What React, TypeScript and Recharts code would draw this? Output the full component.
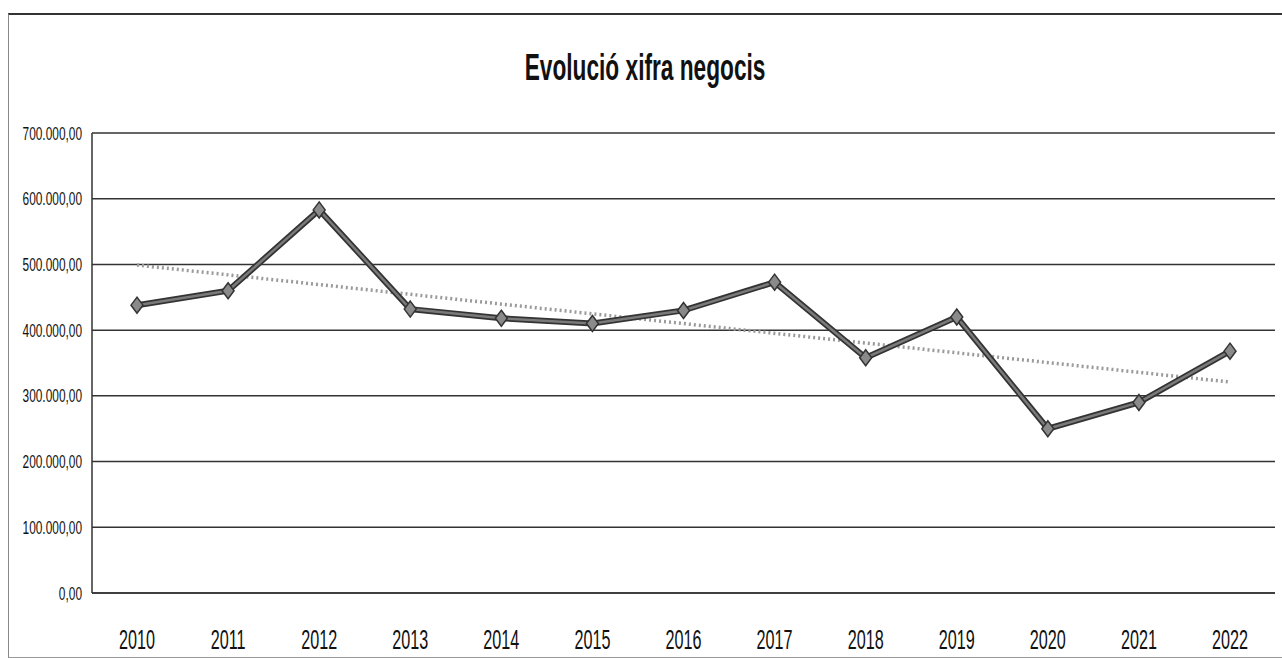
import React from 'react';
import { LineChart, Line, XAxis, YAxis, CartesianGrid } from 'recharts';

const years = ['2010', '2011', '2012', '2013', '2014', '2015', '2016', '2017', '2018', '2019', '2020', '2021', '2022'];
const revenue = [438000, 460000, 583000, 432000, 418000, 410000, 430000, 473000, 358000, 420000, 250000, 290000, 368000];
const trendEnds = [499000, null, null, null, null, null, null, null, null, null, null, null, 321000];
const yTicks = [0, 100000, 200000, 300000, 400000, 500000, 600000, 700000];

const data = years.map((y, i) => ({ year: y, value: revenue[i], trend: trendEnds[i] }));

const FONT = "'Liberation Sans', Arial, sans-serif";

const fmt = (v: number) => {
  const s = Math.round(v).toString().replace(/\B(?=(\d{3})+(?!\d))/g, '.');
  return s + ',00';
};

const YTick = (props: any) => {
  const { y, payload } = props;
  return (
    <text
      transform={`translate(82,${y + 6.5}) scale(0.66,1)`}
      textAnchor="end"
      fontFamily={FONT}
      fontSize={18}
      fill="#111"
    >
      {fmt(payload.value)}
    </text>
  );
};

const XTick = (props: any) => {
  const { x, y, payload } = props;
  return (
    <text
      transform={`translate(${x},${y + 48}) scale(0.6,1)`}
      textAnchor="middle"
      fontFamily={FONT}
      fontSize={27}
      fill="#111"
    >
      {payload.value}
    </text>
  );
};

const Diamond = (props: any) => {
  const { cx, cy } = props;
  if (cx == null || cy == null) return null;
  const w = 6, h = 8;
  return (
    <polygon
      points={`${cx},${cy - h} ${cx + w},${cy} ${cx},${cy + h} ${cx - w},${cy}`}
      fill="#8a8a8a"
      stroke="#333"
      strokeWidth={1.5}
    />
  );
};

export default function App() {
  return (
    <div style={{ position: 'absolute', left: 0, top: 0, width: 1282, height: 658, background: '#fff', overflow: 'hidden' }}>
      <div style={{ position: 'absolute', left: 8, top: 13, width: 1300, height: 642, borderTop: '2px solid #333', borderLeft: '1px solid #888', borderBottom: '1px solid #999' }} />
      <div style={{ position: 'absolute', left: 0, width: 1290, top: 47, textAlign: 'center' }}>
        <span style={{ display: 'inline-block', transform: 'scaleX(0.63)', fontFamily: FONT, fontWeight: 'bold', fontSize: 36, color: '#111' }}>
          Evolució xifra negocis
        </span>
      </div>
      <div style={{ position: 'absolute', left: 0, top: 0 }}>
        <LineChart width={1282} height={658} data={data} margin={{ top: 133, right: 7, left: 0, bottom: 10 }}>
          <CartesianGrid horizontal={true} vertical={false} stroke="#333" strokeWidth={1.5} />
          <XAxis
            dataKey="year"
            height={55}
            tick={<XTick />}
            tickLine={false}
            axisLine={{ stroke: '#333', strokeWidth: 1.5 }}
            interval={0}
            padding={{ left: 45, right: 45 }}
          />
          <YAxis
            width={92}
            domain={[0, 700000]}
            ticks={yTicks}
            tick={<YTick />}
            tickLine={false}
            axisLine={{ stroke: '#333', strokeWidth: 1.5 }}
          />
          <Line
            dataKey="trend"
            connectNulls
            stroke="#9a9a9a"
            strokeWidth={3.5}
            strokeDasharray="2 3"
            dot={false}
            isAnimationActive={false}
          />
          <Line
            dataKey="value"
            stroke="#333"
            strokeWidth={6}
            dot={false}
            isAnimationActive={false}
          />
          <Line
            dataKey="value"
            stroke="#7a7a7a"
            strokeWidth={2.5}
            dot={<Diamond />}
            isAnimationActive={false}
          />
        </LineChart>
      </div>
    </div>
  );
}
